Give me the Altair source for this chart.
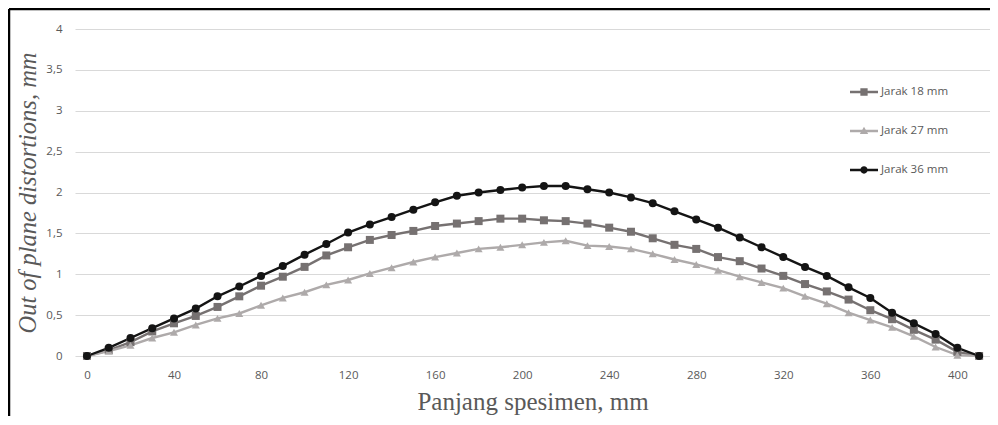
import altair as alt
import pandas as pd

x_mm = list(range(0, 420, 10))
s18 = [0, 0.07, 0.17, 0.30, 0.40, 0.49, 0.60, 0.73, 0.86, 0.97, 1.09, 1.23, 1.33, 1.42, 1.48, 1.53,
       1.59, 1.62, 1.65, 1.68, 1.68, 1.66, 1.65, 1.62, 1.57, 1.52, 1.44, 1.36, 1.31, 1.21, 1.16, 1.07,
       0.98, 0.88, 0.79, 0.69, 0.56, 0.45, 0.32, 0.20, 0.05, 0]
s27 = [0, 0.06, 0.13, 0.22, 0.29, 0.38, 0.46, 0.52, 0.62, 0.71, 0.78, 0.87, 0.93, 1.01, 1.08, 1.15,
       1.21, 1.26, 1.31, 1.33, 1.36, 1.39, 1.41, 1.35, 1.34, 1.31, 1.25, 1.18, 1.12, 1.05, 0.97, 0.90,
       0.83, 0.73, 0.64, 0.53, 0.44, 0.35, 0.24, 0.11, 0.01, 0]
s36 = [0, 0.10, 0.22, 0.34, 0.46, 0.58, 0.73, 0.85, 0.98, 1.10, 1.24, 1.37, 1.51, 1.61, 1.70, 1.79,
       1.88, 1.96, 2.00, 2.03, 2.06, 2.08, 2.08, 2.04, 2.00, 1.94, 1.87, 1.77, 1.67, 1.57, 1.45, 1.33,
       1.21, 1.09, 0.98, 0.84, 0.71, 0.53, 0.40, 0.27, 0.10, 0]
series_names = ["Jarak 18 mm", "Jarak 27 mm", "Jarak 36 mm"]
series_colors = ["#767171", "#aeaaaa", "#141414"]
x_ticks = [0, 40, 80, 120, 160, 200, 240, 280, 320, 360, 400]
y_ticks = [0, 0.5, 1, 1.5, 2, 2.5, 3, 3.5, 4]

rows = []
for name, vals in zip(series_names, [s18, s27, s36]):
    for xv, yv in zip(x_mm, vals):
        rows.append({"x": xv, "y": yv, "series": name})
df = pd.DataFrame(rows)

W, H = 915, 327
PL, PT, PB = 67, 21, 60
LBL_FONT = "Open Sans"
LBL_SIZE = 11.5
LBL_COLOR = "#595959"

xs = alt.Scale(domain=[-5.5, 415], nice=False, zero=False)
ys = alt.Scale(domain=[0, 4], nice=False)
cs = alt.Scale(domain=series_names, range=series_colors)

x_enc = alt.X("x:Q", scale=xs, axis=alt.Axis(
    values=x_ticks, title="Panjang spesimen, mm", grid=False, domain=False, ticks=False,
    labelPadding=13, labelFont=LBL_FONT, labelFontSize=LBL_SIZE, labelColor=LBL_COLOR,
    titleFont="Liberation Serif", titleFontSize=25, titleFontWeight="normal", titleColor="#595959",
    titleY=53, titleBaseline="alphabetic"))
y_enc = alt.Y("y:Q", scale=ys, axis=alt.Axis(
    values=y_ticks, title="Out of plane distortions, mm", grid=True, gridColor="#d9d9d9",
    domain=False, ticks=False, labelPadding=13, format="~g",
    labelExpr="replace(datum.label, '.', ',')",
    labelFont=LBL_FONT, labelFontSize=LBL_SIZE, labelColor=LBL_COLOR,
    titleFont="Liberation Serif", titleFontSize=24.5, titleFontStyle="italic", titleFontWeight="normal",
    titleColor="#595959", titleX=-47, titleY=H / 2, titleAngle=-90, titleAlign="center",
    titleBaseline="middle"))

base = alt.Chart(df)

lines = base.mark_line(strokeWidth=2.4).encode(
    x=x_enc, y=y_enc,
    color=alt.Color("series:N", scale=cs, legend=None),
    detail="series:N",
    order="x:Q",
)

pts = base.mark_point(filled=True, opacity=1).encode(
    x="x:Q", y="y:Q",
    color=alt.Color("series:N", scale=cs, legend=None),
    shape=alt.Shape("series:N", scale=alt.Scale(domain=series_names,
                                                range=["square", "triangle-up", "circle"]), legend=None),
    size=alt.Size("series:N", scale=alt.Scale(domain=series_names, range=[64, 64, 56]), legend=None),
)

leg_paths = [
    "M-1,-0.085H1V0.085H-1Z M-0.26,-0.26H0.26V0.26H-0.26Z",
    "M-1,-0.085H1V0.085H-1Z M0,-0.3L0.3,0.22L-0.3,0.22Z",
    "M-1,-0.085H1V0.085H-1Z M-0.26,0A0.26,0.26 0 1,1 0.26,0A0.26,0.26 0 1,1 -0.26,0Z",
]
leg_props = dict(title=None, orient="none", legendX=775, legendY=49,
                 symbolSize=784, symbolOpacity=1, symbolStrokeWidth=0,
                 rowPadding=19, labelOffset=3, labelFont=LBL_FONT,
                 labelFontSize=LBL_SIZE, labelColor=LBL_COLOR)
leg = base.mark_point(filled=True, opacity=0).encode(
    x="x:Q", y="y:Q",
    color=alt.Color("series:N", scale=alt.Scale(domain=series_names, range=series_colors),
                    legend=alt.Legend(**leg_props)),
    shape=alt.Shape("series:N", scale=alt.Scale(domain=series_names, range=leg_paths),
                    legend=alt.Legend(**leg_props)),
)

border_top = alt.Chart(pd.DataFrame({"a": [0]})).mark_rule(color="black", strokeWidth=2.5).encode(
    x=alt.value(-PL + 1), x2=alt.value(W + 10), y=alt.value(-PT + 1))
border_left = alt.Chart(pd.DataFrame({"a": [0]})).mark_rule(color="black", strokeWidth=2.5).encode(
    x=alt.value(-PL + 1), y=alt.value(-PT + 1), y2=alt.value(H + PB + 10))

chart = alt.layer(lines, pts, leg, border_top, border_left).resolve_scale(
    color="independent", shape="independent"
).properties(
    width=W, height=H,
    autosize=alt.AutoSizeParams(type="none"),
    padding={"left": PL, "top": PT, "right": 0, "bottom": PB},
).configure_view(stroke=None)

chart.save("out.html", embed_options={"renderer": "svg", "actions": False})
